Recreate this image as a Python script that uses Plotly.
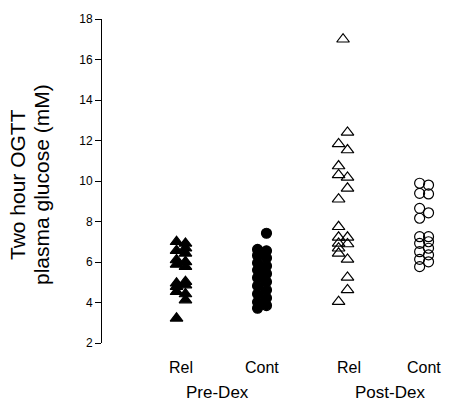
import plotly.graph_objects as go

# Values (mM); side = column offset (-1 left, +1 right)
pre_rel = [7.00, 6.92, 6.68, 6.56, 6.43, 6.10, 6.01, 5.88, 5.77, 5.03, 4.95, 4.86, 4.78, 4.53, 4.42, 4.12, 3.22]
pre_rel_side = [-1, 1, 1, -1, 1, -1, 1, -1, 1, 1, -1, 1, -1, -1, 1, 1, -1]

pre_cont = [7.42, 6.62, 6.55, 6.32, 6.20, 5.95, 5.80, 5.60, 5.42, 5.22, 5.02, 4.82, 4.62, 4.42, 4.22, 4.02, 3.85, 3.72]
pre_cont_side = [1, -1, 1, -1, 1, -1, 1, -1, 1, -1, 1, -1, 1, -1, 1, -1, 1, -1]

post_rel = [17.00, 12.40, 11.83, 11.53, 10.74, 10.30, 10.18, 9.64, 9.10, 7.74, 7.22, 7.22, 6.92, 6.89, 6.68, 6.43, 6.13, 5.24, 4.62, 4.04]
post_rel_side = [0, 1, -1, 1, -1, -1, 1, 1, -1, -1, -1, 1, -1, 1, -1, -1, 1, 1, 1, -1]

post_cont = [9.89, 9.80, 9.39, 9.36, 8.65, 8.43, 8.16, 7.25, 7.25, 7.00, 6.92, 6.68, 6.51, 6.35, 6.13, 6.01, 5.77]
post_cont_side = [-1, 1, -1, 1, -1, 1, -1, -1, 1, 1, -1, 1, -1, 1, -1, 1, -1]

group_pos = [1, 2, 3, 4]
cat_labels = ["Rel", "Cont", "Rel", "Cont"]
phase_labels = ["Pre-Dex", "Post-Dex"]
y_ticks = [2, 4, 6, 8, 10, 12, 14, 16, 18]
y_title_lines = ["Two hour OGTT", "plasma glucose (mM)"]

OFF = 0.055

series = [
    (pre_rel, pre_rel_side, group_pos[0], "triangle-up", 11),
    (pre_cont, pre_cont_side, group_pos[1], "circle", 10),
    (post_rel, post_rel_side, group_pos[2], "triangle-up-open", 11),
    (post_cont, post_cont_side, group_pos[3], "circle-open", 10),
]

fig = go.Figure()
for vals, side, pos, sym, sz in series:
    fig.add_trace(go.Scatter(
        x=[pos + s * OFF for s in side], y=vals, mode="markers",
        marker=dict(symbol=sym, size=sz, color="black",
                    line=dict(color="black", width=1.2)),
        showlegend=False, cliponaxis=False))

FONT = "Liberation Sans, Arial, sans-serif"
cat_shift = [0, 0, 0.07, 0]
for pos, lab, sh in zip(group_pos, cat_labels, cat_shift):
    fig.add_annotation(x=pos + sh, y=-0.077, xref="x", yref="paper", text=lab,
                       showarrow=False, font=dict(size=16, color="black", family=FONT),
                       xanchor="center", yanchor="middle")
phase_x = [1.45, 3.58]
for px, lab in zip(phase_x, phase_labels):
    fig.add_annotation(x=px, y=-0.154, xref="x", yref="paper", text=lab,
                       showarrow=False, font=dict(size=17, color="black", family=FONT),
                       xanchor="center", yanchor="middle")
for xp, line in zip([-0.241, -0.172], y_title_lines):
    fig.add_annotation(x=xp, y=0.488, xref="paper", yref="paper", text=line,
                       textangle=-90, showarrow=False,
                       font=dict(size=21, color="black", family=FONT),
                       xanchor="center", yanchor="middle")

fig.update_layout(
    width=450, height=414,
    margin=dict(l=102, r=0, t=19, b=71),
    paper_bgcolor="white", plot_bgcolor="white",
    font=dict(family=FONT, color="black"),
    xaxis=dict(range=[0.025, 4.32], visible=False),
    yaxis=dict(range=[2, 18], tickvals=y_ticks, showline=True, linecolor="black",
               linewidth=1, ticks="outside", ticklen=6, tickcolor="black",
               showgrid=False, zeroline=False, tickfont=dict(size=12)),
)

fig.write_html("out.html")
